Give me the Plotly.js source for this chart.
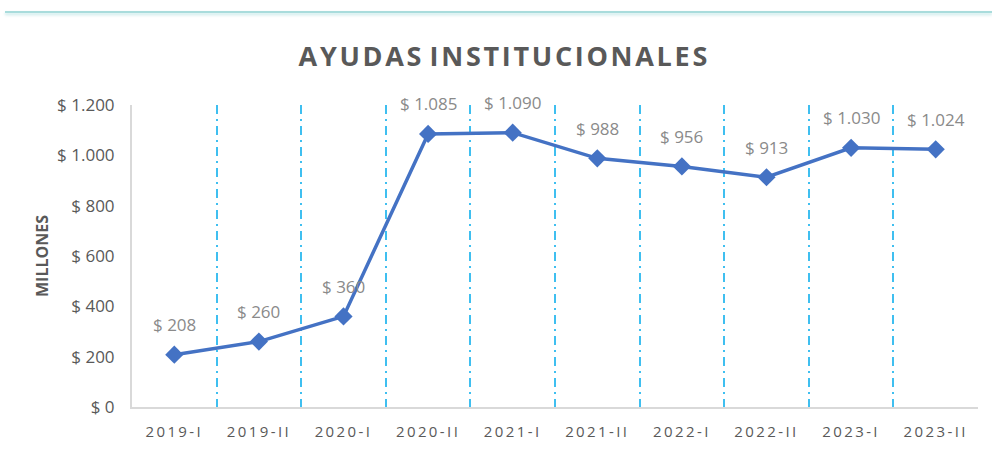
<!DOCTYPE html>
<html>
<head>
<meta charset="utf-8">
<script src="https://cdn.plot.ly/plotly-3.0.1.min.js"></script>
<style>
  html, body { margin: 0; padding: 0; background: #ffffff; }
  #wrap { position: relative; width: 992px; height: 450px; overflow: hidden; }
  #topline { position: absolute; top: 11px; left: 5px; right: 0; height: 2px;
             background: #a9dcdc; box-shadow: 0 2px 3px rgba(120,200,200,0.45); z-index: 2; }
  #chart { position: absolute; top: 0; left: 0; width: 992px; height: 450px; }
  .xtick text { letter-spacing: 2.4px; }
</style>
</head>
<body>
<div id="wrap">
  <div id="topline"></div>
  <div id="chart"></div>
</div>
<script>
const categories = ["2019-I", "2019-II", "2020-I", "2020-II", "2021-I", "2021-II", "2022-I", "2022-II", "2023-I", "2023-II"];
const values = [208, 260, 360, 1085, 1090, 988, 956, 913, 1030, 1024];
const labels = ["$ 208", "$ 260", "$ 360", "$ 1.085", "$ 1.090", "$ 988", "$ 956", "$ 913", "$ 1.030", "$ 1.024"];
const yTickVals = [0, 200, 400, 600, 800, 1000, 1200];
const yTickText = ["$ 0", "$ 200", "$ 400", "$ 600", "$ 800", "$ 1.000", "$ 1.200"];

const trace = {
  type: "scatter",
  mode: "lines+markers",
  x: categories,
  y: values,
  line: { color: "#4472C4", width: 3.5 },
  marker: { symbol: "diamond", size: 14, color: "#4472C4" },
  hoverinfo: "skip",
  cliponaxis: false
};

const annotations = categories.map((c, i) => ({
  x: c, y: values[i], xref: "x", yref: "y",
  text: labels[i], showarrow: false, yshift: 30,
  font: { family: "Open Sans, sans-serif", size: 17, color: "#8a8a8a" }
}));

const layout = {
  width: 992, height: 450,
  margin: { l: 132, r: 14, t: 105, b: 43 },
  paper_bgcolor: "rgba(0,0,0,0)",
  plot_bgcolor: "#ffffff",
  showlegend: false,
  title: {
    text: "<b>A Y U D A S   I N S T I T U C I O N A L E S</b>".replace(/ /g, "\u200A"),
    font: { family: "Open Sans, sans-serif", size: 27, color: "#595959" },
    x: 0.507, xref: "container", xanchor: "center",
    y: 0.875, yref: "container", yanchor: "middle"
  },
  xaxis: {
    type: "category",
    categoryorder: "array", categoryarray: categories,
    range: [-0.5, 9.5],
    tickson: "boundaries",
    showgrid: true, gridcolor: "#3fbff0", gridwidth: 2, griddash: "9px,5px,2px,5px",
    showline: true, linecolor: "#d9d9d9", linewidth: 2,
    ticks: "", ticklen: 0, ticklabelstandoff: 10,
    tickfont: { family: "Open Sans, sans-serif", size: 15, color: "#595959" },
    fixedrange: true
  },
  yaxis: {
    range: [0, 1200],
    tickvals: yTickVals, ticktext: yTickText,
    showgrid: false, zeroline: false,
    showline: true, linecolor: "#d9d9d9", linewidth: 2,
    ticks: "", ticklen: 0, ticklabelstandoff: 12,
    tickfont: { family: "Open Sans, sans-serif", size: 17, color: "#595959" },
    title: { text: "<b>MILLONES</b>", font: { family: "Open Sans, sans-serif", size: 16, color: "#595959" }, standoff: 5 },
    fixedrange: true
  },
  annotations: annotations
};

Plotly.newPlot("chart", [trace], layout, { displayModeBar: false, staticPlot: true });
</script>
</body>
</html>
